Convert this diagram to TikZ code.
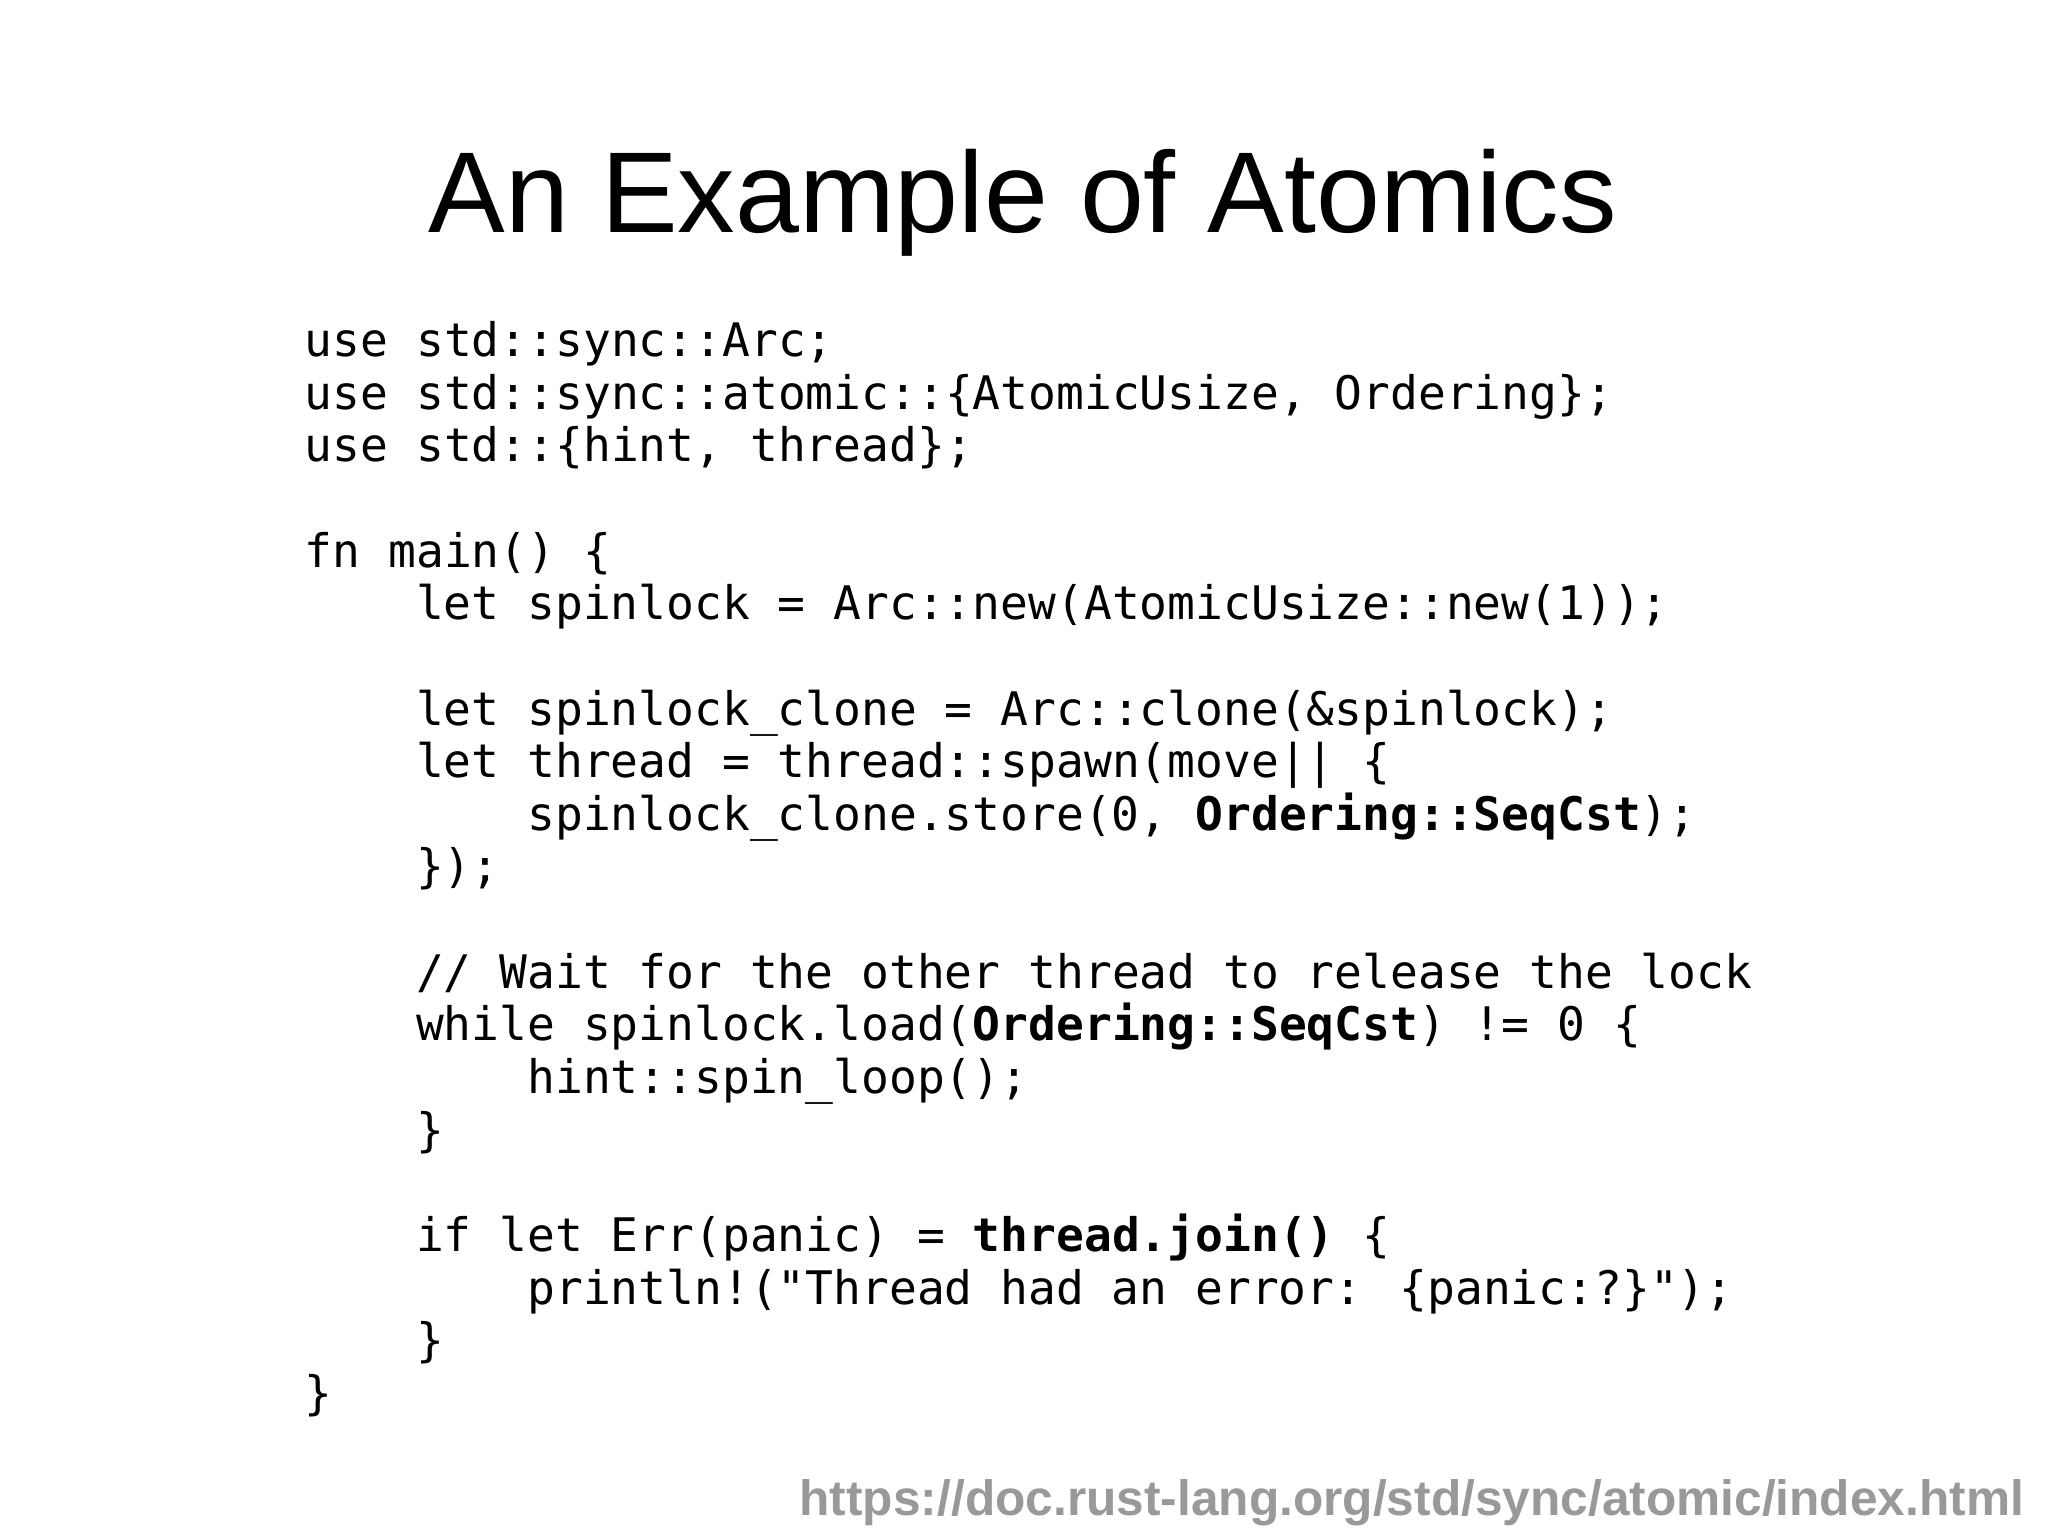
\documentclass[tikz,border=0pt]{standalone}
\usepackage{fontspec}
\setmainfont{Liberation Sans}
\newfontfamily\code{DejaVu Sans Mono}
\begin{document}
\begin{tikzpicture}[x=0.5pt,y=-0.5pt,
  cl/.style={anchor=base west,inner sep=0pt,font=\code\fontsize{17.7pt}{20pt}\selectfont}]
\useasboundingbox (0,0) rectangle (1568,1176);
\fill[white] (0,0) rectangle (1568,1176);
\node[anchor=base,inner sep=0pt,font=\fontsize{44pt}{50pt}\selectfont] (title) at (783,178) {An Example of Atomics};
\def\ind{85.2}
\node[cl] (l1) at (233,273) {use std::sync::Arc;};
\node[cl] (l2) at (233,313.3) {use std::sync::atomic::\{AtomicUsize, Ordering\};};
\node[cl] (l3) at (233,353.6) {use std::\{hint, thread\};};
\node[cl] (l5) at (233,434.2) {fn main() \{};
\node[cl] (l6) at (318.2,474.5) {let spinlock = Arc::new(AtomicUsize::new(1));};
\node[cl] (l8) at (318.2,555.1) {let spinlock\_clone = Arc::clone(\&spinlock);};
\node[cl] (l9) at (318.2,595.4) {let thread = thread::spawn(move|| \{};
\node[cl] (l10) at (403.4,635.7) {spinlock\_clone.store(0, \textbf{Ordering::SeqCst});};
\node[cl] (l11) at (318.2,676) {\});};
\node[cl] (l13) at (318.2,756.6) {// Wait for the other thread to release the lock};
\node[cl] (l14) at (318.2,796.9) {while spinlock.load(\textbf{Ordering::SeqCst}) != 0 \{};
\node[cl] (l15) at (403.4,837.2) {hint::spin\_loop();};
\node[cl] (l16) at (318.2,877.5) {\}};
\node[cl] (l18) at (318.2,958.1) {if let Err(panic) = \textbf{thread.join()} \{};
\node[cl] (l19) at (403.4,998.4) {println!("Thread had an error: \{panic:?\}");};
\node[cl] (l20) at (318.2,1038.7) {\}};
\node[cl] (l21) at (233,1079) {\}};
\node[anchor=base east,inner sep=0pt,text=black!40,font=\bfseries\fontsize{19pt}{22pt}\selectfont] (url) at (1550,1160) {https://doc.rust-lang.org/std/sync/atomic/index.html};
\end{tikzpicture}
\end{document}
